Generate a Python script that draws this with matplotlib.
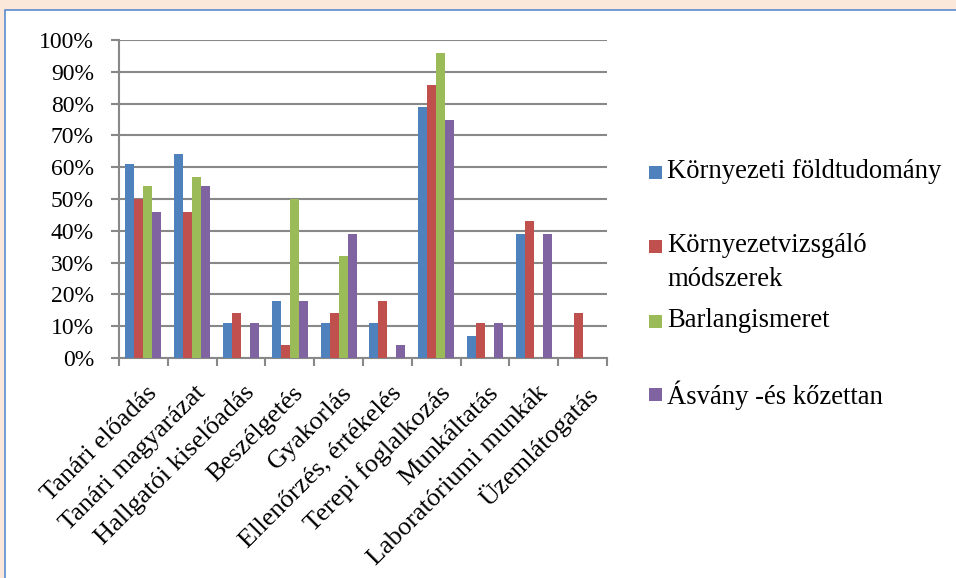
import matplotlib
matplotlib.use("Agg")
import matplotlib.pyplot as plt
from matplotlib.patches import Rectangle
import numpy as np

categories = ["Tanári előadás", "Tanári magyarázat", "Hallgatói kiselőadás", "Beszélgetés",
              "Gyakorlás", "Ellenőrzés, értékelés", "Terepi foglalkozás", "Munkáltatás",
              "Laboratóriumi munkák", "Üzemlátogatás"]
series_names = ["Környezeti földtudomány", "Környezetvizsgáló\nmódszerek",
                "Barlangismeret", "Ásvány -és kőzettan"]
kornyezeti = [61, 64, 11, 18, 11, 11, 79, 7, 39, 0]
vizsgalo = [50, 46, 14, 4, 14, 18, 86, 11, 43, 14]
barlang = [54, 57, 0, 50, 32, 0, 96, 0, 0, 0]
asvany = [46, 54, 11, 18, 39, 4, 75, 11, 39, 0]
yticks = [0, 10, 20, 30, 40, 50, 60, 70, 80, 90, 100]
ytick_labels = ["0%", "10%", "20%", "30%", "40%", "50%", "60%", "70%", "80%", "90%", "100%"]

colors = ["#4F81BD", "#C0504D", "#9BBB59", "#8064A2"]
all_series = [kornyezeti, vizsgalo, barlang, asvany]

plt.rcParams['font.family'] = ['Liberation Serif', 'DejaVu Serif']

W, H = 956, 578
fig = plt.figure(figsize=(W / 100, H / 100), dpi=100)
fig.patch.set_facecolor("#FCE8DA")
bg = Rectangle((5 / W, -0.01), 1, 1.01 - 10 / H, transform=fig.transFigure,
               facecolor="white", edgecolor="#5B8BD0", linewidth=1.2, zorder=-5)
fig.add_artist(bg)

left, right, top, bottom = 119, 607, 40, 358
ax = fig.add_axes([left / W, 1 - bottom / H, (right - left) / W, (bottom - top) / H])
ax.set_facecolor("none")
ax.set_zorder(2)

x = np.arange(len(categories))
bw = 0.185
for i, (vals, c) in enumerate(zip(all_series, colors)):
    ax.bar(x + (i - 1.5) * bw, vals, width=bw, color=c, zorder=3, linewidth=0)

ax.set_xlim(-0.5, len(categories) - 0.5)
ax.set_ylim(0, 100)
ax.set_yticks(yticks)
ax.set_yticklabels(ytick_labels, fontsize=17)
ax.yaxis.grid(True, color="#888888", linewidth=1.5, zorder=1)
ax.set_axisbelow(True)
ax.tick_params(axis="y", length=6, width=1.5, color="#888888", pad=12)

ax.set_xticks(np.arange(len(categories) + 1) - 0.5, minor=False)
ax.set_xticklabels([])
ax.tick_params(axis="x", length=6, width=1.5, color="#888888", direction="out")
for xi, lab in zip(x, categories):
    ax.text(xi + 0.05, -7.5, lab, rotation=45, ha="right", va="top", rotation_mode="anchor",
            fontsize=19, transform=ax.transData)

for s in ["top", "right"]:
    ax.spines[s].set_visible(False)
for s in ["left", "bottom"]:
    ax.spines[s].set_color("#888888")
    ax.spines[s].set_linewidth(1.5)

# legend
ys = [173, 247, 322, 395]
for name, c, yy in zip(series_names, colors, ys):
    fig.add_artist(Rectangle((649 / W, 1 - (yy + 6) / H), 13 / W, 13 / H,
                             transform=fig.transFigure, facecolor=c, edgecolor="none"))
    fig.text(667 / W, 1 - (yy - 14) / H, name, fontsize=19.2, ha="left", va="top",
             linespacing=1.45)

fig.savefig("out.png", dpi=100, facecolor=fig.get_facecolor())
